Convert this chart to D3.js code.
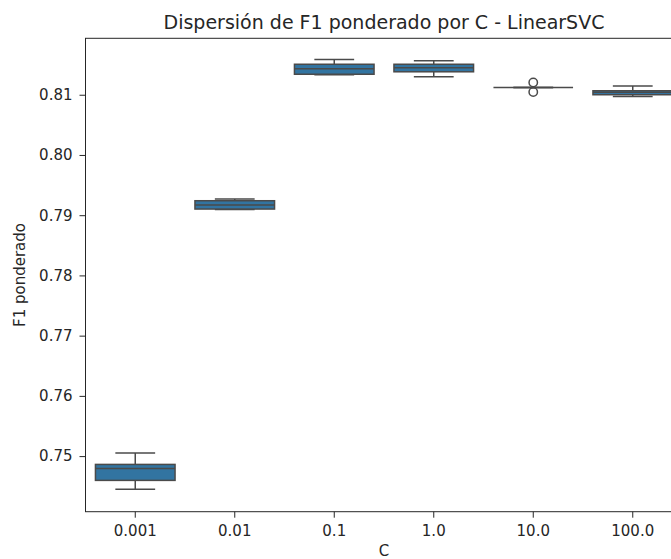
<!DOCTYPE html>
<html>
<head>
<meta charset="utf-8">
<script src="https://cdn.jsdelivr.net/npm/d3@7"></script>
<style>
  html, body { margin: 0; padding: 0; background: #fff; }
  svg { display: block; }
  text { font-family: "DejaVu Sans", sans-serif; fill: #262626; }
</style>
</head>
<body>
<svg id="chart" width="671" height="559"></svg>
<script>
// Weighted-F1 distribution per regularisation strength C (LinearSVC)
const categories = ["0.001", "0.01", "0.1", "1.0", "10.0", "100.0"];
const whiskerLow  = [0.74448, 0.79094, 0.81332, 0.81298, 0.81119, 0.80970];
const q1Values    = [0.74597, 0.79102, 0.81340, 0.81381, 0.81119, 0.81000];
const medians     = [0.74796, 0.79168, 0.81431, 0.81448, 0.81119, 0.81041];
const q3Values    = [0.74862, 0.79240, 0.81506, 0.81506, 0.81119, 0.81066];
const whiskerHigh = [0.75050, 0.79268, 0.81583, 0.81564, 0.81119, 0.81146];
const outliers    = [[], [], [], [], [0.81202, 0.81046], []];
const yTicks = [0.75, 0.76, 0.77, 0.78, 0.79, 0.80, 0.81];

const boxes = categories.map((c, i) => ({
  c, lo: whiskerLow[i], q1: q1Values[i], med: medians[i],
  q3: q3Values[i], hi: whiskerHigh[i], out: outliers[i]
}));

const svg = d3.select("#chart");
const plotLeft = 85.5, plotRight = 682.5, plotTop = 38.3, plotBottom = 511.7;

const x = d3.scaleBand().domain(categories).range([plotLeft, plotRight]).padding(0);
const y = d3.scaleLinear().domain([0.74077, 0.81937]).range([plotBottom, plotTop]);

const fill = "#3274a1", line = "#4a4a4a";
const boxW = x.bandwidth() * 0.8, capW = boxW / 2;

// axes
const yAxis = d3.axisLeft(y).tickValues(yTicks).tickFormat(d3.format(".2f")).tickSize(6).tickPadding(7);
const xAxis = d3.axisBottom(x).tickSize(6).tickPadding(8);

const gy = svg.append("g").attr("transform", `translate(${plotLeft},0)`).call(yAxis);
const gx = svg.append("g").attr("transform", `translate(0,${plotBottom})`).call(xAxis);
[gx, gy].forEach(g => {
  g.select(".domain").remove();
  g.selectAll(".tick line").attr("stroke", "#262626").attr("stroke-width", 1);
  g.selectAll(".tick text").style("font-size", "15px").attr("fill", "#262626");
});

// boxes
const g = svg.append("g");
boxes.forEach(b => {
  const cx = x(b.c) + x.bandwidth() / 2;
  const bg = g.append("g");
  // whiskers
  bg.append("line").attr("x1", cx).attr("x2", cx).attr("y1", y(b.q3)).attr("y2", y(b.hi))
    .attr("stroke", line).attr("stroke-width", 1.5);
  bg.append("line").attr("x1", cx).attr("x2", cx).attr("y1", y(b.q1)).attr("y2", y(b.lo))
    .attr("stroke", line).attr("stroke-width", 1.5);
  // caps
  [b.hi, b.lo].forEach(v => {
    bg.append("line").attr("x1", cx - capW / 2).attr("x2", cx + capW / 2)
      .attr("y1", y(v)).attr("y2", y(v)).attr("stroke", line).attr("stroke-width", 1.5);
  });
  // box
  bg.append("rect").attr("x", cx - boxW / 2).attr("width", boxW)
    .attr("y", y(b.q3)).attr("height", Math.max(0, y(b.q1) - y(b.q3)))
    .attr("fill", fill).attr("stroke", line).attr("stroke-width", 1.5);
  // median
  bg.append("line").attr("x1", cx - boxW / 2).attr("x2", cx + boxW / 2)
    .attr("y1", y(b.med)).attr("y2", y(b.med)).attr("stroke", line).attr("stroke-width", 1.5);
  // fliers
  b.out.forEach(v => {
    bg.append("circle").attr("cx", cx).attr("cy", y(v)).attr("r", 4.2)
      .attr("fill", "none").attr("stroke", line).attr("stroke-width", 1.5);
  });
});

// frame
svg.append("rect").attr("x", plotLeft).attr("y", plotTop)
  .attr("width", plotRight - plotLeft).attr("height", plotBottom - plotTop)
  .attr("fill", "none").attr("stroke", "#262626").attr("stroke-width", 1);

// labels
svg.append("text").attr("x", (plotLeft + plotRight) / 2).attr("y", 29).attr("text-anchor", "middle")
  .style("font-size", "19px").text("Dispersión de F1 ponderado por C - LinearSVC");
svg.append("text").attr("x", (plotLeft + plotRight) / 2).attr("y", 556).attr("text-anchor", "middle")
  .style("font-size", "15px").text("C");
svg.append("text").attr("transform", `translate(25,${(plotTop + plotBottom) / 2}) rotate(-90)`)
  .attr("text-anchor", "middle").style("font-size", "15px").text("F1 ponderado");
</script>
</body>
</html>
